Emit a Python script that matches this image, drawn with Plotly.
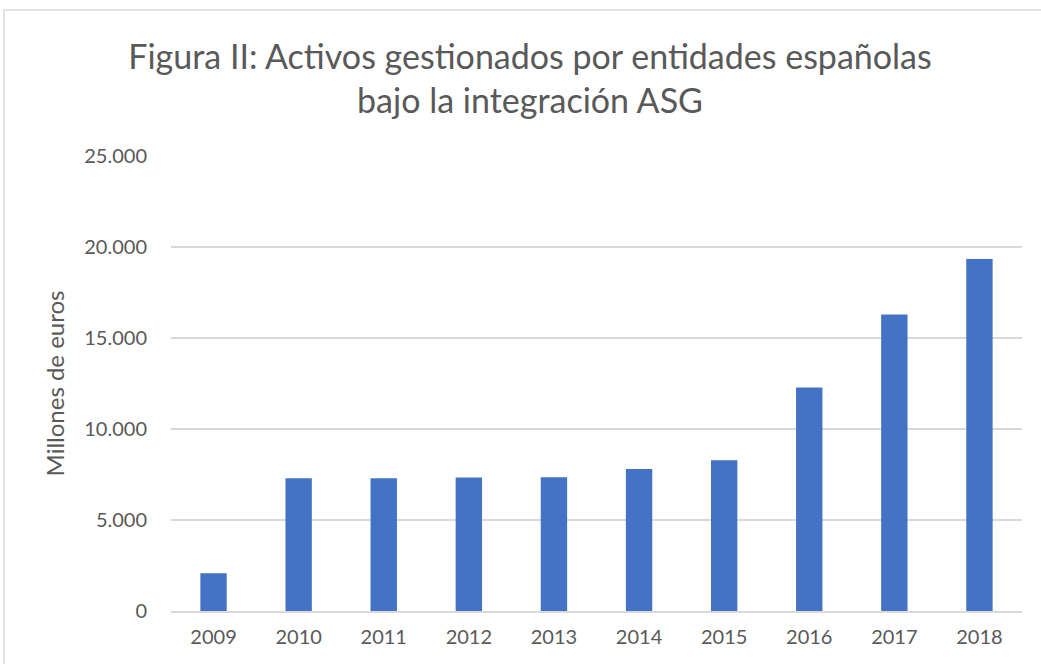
import plotly.graph_objects as go

years = ["2009", "2010", "2011", "2012", "2013", "2014", "2015", "2016", "2017", "2018"]
activos = [2070, 7290, 7290, 7330, 7345, 7800, 8280, 12275, 16285, 19340]
y_ticks = [0, 5000, 10000, 15000, 20000, 25000]
y_tick_labels = ["0", "5.000", "10.000", "15.000", "20.000", "25.000"]

title_text = "Figura II: Activos gestionados por entidades españolas<br>bajo la integración ASG"
y_title = "Millones de euros"

FONT = "Lato"
GREY = "#595959"

fig = go.Figure(
    go.Bar(x=years, y=activos, marker=dict(color="#4472C4", line=dict(width=0)), width=0.31)
)

fig.update_layout(
    width=1041,
    height=664,
    margin=dict(l=171, r=19, t=156, b=53),
    paper_bgcolor="white",
    plot_bgcolor="white",
    font=dict(family=FONT, color=GREY, size=20),
    title=dict(
        text=title_text,
        x=530 / 1041,
        xref="container",
        xanchor="center",
        y=1 - 69 / 664,
        yref="container",
        yanchor="middle",
        font=dict(family=FONT, size=34, color=GREY),
    ),
    showlegend=False,
    shapes=[
        dict(
            type="rect", xref="paper", yref="paper",
            x0=-167 / 851, x1=1.1, y0=-0.2, y1=(664 - 10 - 53) / 455,
            line=dict(color="#D9D9D9", width=1.5), fillcolor="rgba(0,0,0,0)", layer="below",
        )
    ],
)

fig.update_xaxes(
    type="category",
    showgrid=False,
    showline=True,
    linecolor="#D9D9D9",
    linewidth=1.5,
    ticks="outside",
    ticklen=7,
    tickcolor="rgba(0,0,0,0)",
    tickfont=dict(size=20, color=GREY, family=FONT),
)

fig.update_yaxes(
    range=[0, 25000],
    tickvals=y_ticks,
    ticktext=y_tick_labels,
    showgrid=True,
    gridcolor="#D9D9D9",
    gridwidth=1.5,
    zeroline=False,
    showline=False,
    ticks="outside",
    ticklen=19,
    tickcolor="rgba(0,0,0,0)",
    tickfont=dict(size=20, color=GREY, family=FONT),
    title=dict(text=y_title, font=dict(size=24, color=GREY, family=FONT), standoff=12),
)

fig.write_html(
    "out.html",
    config={"displayModeBar": False},
    post_script="document.body.style.margin='0';",
)
